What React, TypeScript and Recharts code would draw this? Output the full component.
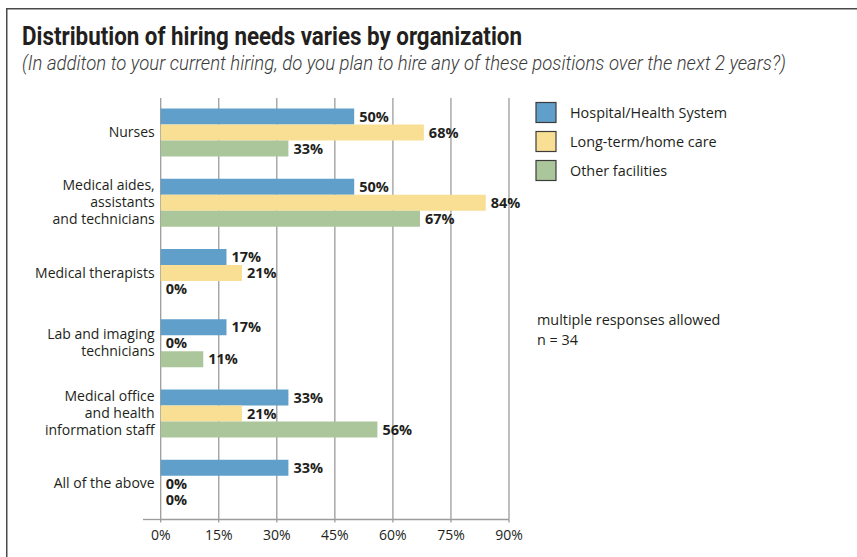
import { BarChart, Bar, XAxis, YAxis, CartesianGrid, LabelList } from "recharts"

const categories = [
  "Nurses",
  "Medical aides,\nassistants\nand technicians",
  "Medical therapists",
  "Lab and imaging\ntechnicians",
  "Medical office\nand health\ninformation staff",
  "All of the above"
]
const hospital = [50, 50, 17, 17, 33, 33]
const longTerm = [68, 84, 21, 0, 21, 0]
const other = [33, 67, 0, 11, 56, 0]
const seriesNames = ["Hospital/Health System", "Long-term/home care", "Other facilities"]
const xTicks = [0, 15, 30, 45, 60, 75, 90]

const colors = ["#5f9fca", "#f9df93", "#acc69b"]
const keys = ["hospital", "longTerm", "other"]
const textColor = "#231f20"
const gridColor = "#9c9c9c"
const frameColor = "#4a4a4a"
const bodyFont = "'Open Sans', 'Noto Sans', sans-serif"
const titleFont = "Roboto, 'Open Sans', sans-serif"

const data = categories.map((name, i) => ({
  name,
  hospital: hospital[i],
  longTerm: longTerm[i],
  other: other[i]
}))

function CategoryTick(props: any) {
  const { x, y, payload } = props
  const lines = String(payload.value).split("\n")
  const lh = 17
  const first = -((lines.length - 1) * lh) / 2 + 4
  return (
    <text x={x} y={y} textAnchor="end" fill={textColor} fontSize={14} fontFamily={bodyFont}>
      {lines.map((l, i) => (
        <tspan key={i} x={x} dy={i === 0 ? first : lh}>
          {l}
        </tspan>
      ))}
    </text>
  )
}

export default function App() {
  return (
    <div
      style={{
        position: "absolute",
        left: 0,
        top: 0,
        width: 857,
        height: 557,
        overflow: "hidden",
        background: "white"
      }}
    >
      <svg width={857} height={557} style={{ position: "absolute", left: 0, top: 0 }}>
        {/* frame: only the top and left edges fall inside the picture */}
        <line x1={6} x2={857} y1={8.75} y2={8.75} stroke={frameColor} strokeWidth={1.5} />
        <line x1={6.75} x2={6.75} y1={8} y2={557} stroke={frameColor} strokeWidth={1.5} />
        <text
          x={22}
          y={45}
          fontSize={26}
          fontWeight={700}
          fontFamily={titleFont}
          fill={textColor}
          textLength={500}
          lengthAdjust="spacingAndGlyphs"
        >
          Distribution of hiring needs varies by organization
        </text>
        <text
          x={22}
          y={70}
          fontSize={21}
          fontStyle="italic"
          fontFamily={titleFont}
          fontWeight={300}
          fill="#3a3a3a"
          textLength={764}
          lengthAdjust="spacingAndGlyphs"
        >
          (In additon to your current hiring, do you plan to hire any of these positions over the next 2 years?)
        </text>
        {/* axis line runs a little past the 0% gridline */}
        <line x1={143} x2={161} y1={519.5} y2={519.5} stroke={gridColor} strokeWidth={1.3} />
        {seriesNames.map((s, i) => (
          <g key={s}>
            <rect x={536} y={102.5 + i * 29} width={20} height={20} fill={colors[i]} stroke="#3c3c3c" strokeWidth={1.2} />
            <text x={570} y={117.5 + i * 29} fontSize={14.4} fontFamily={bodyFont} fill={textColor}>
              {s}
            </text>
          </g>
        ))}
        <text x={537} y={325} fontSize={14.4} fontFamily={bodyFont} fill={textColor}>
          multiple responses allowed
        </text>
        <text x={537} y={345} fontSize={14.4} fontFamily={bodyFont} fill={textColor}>
          n = 34
        </text>
      </svg>
      <div style={{ position: "absolute", left: 0, top: 0 }}>
        <BarChart
          width={857}
          height={557}
          data={data}
          layout="vertical"
          margin={{ top: 98, right: 348, bottom: 7.5, left: 10.7 }}
          barCategoryGap={10.6}
          barGap={0}
        >
          <CartesianGrid horizontal={false} stroke={gridColor} strokeWidth={1.3} />
          <XAxis
            type="number"
            domain={[0, 90]}
            ticks={xTicks}
            tickFormatter={v => `${v}%`}
            axisLine={{ stroke: gridColor, strokeWidth: 1.3 }}
            tickLine={{ stroke: gridColor, strokeWidth: 1.3 }}
            tickSize={3}
            tickMargin={8}
            height={30}
            tick={{ fill: textColor, fontSize: 14, fontFamily: bodyFont }}
          />
          <YAxis
            type="category"
            dataKey="name"
            width={150}
            axisLine={false}
            tickLine={false}
            tickSize={0}
            tickMargin={6}
            tick={<CategoryTick />}
          />
          {keys.map((k, i) => (
            <Bar key={k} dataKey={k} fill={colors[i]} minPointSize={0.01} isAnimationActive={false}>
              <LabelList
                dataKey={k}
                position="right"
                offset={5}
                formatter={(v: any) => `${v}%`}
                style={{ fill: textColor, fontSize: 14.5, fontWeight: 700, fontFamily: bodyFont }}
              />
            </Bar>
          ))}
        </BarChart>
      </div>
    </div>
  )
}
